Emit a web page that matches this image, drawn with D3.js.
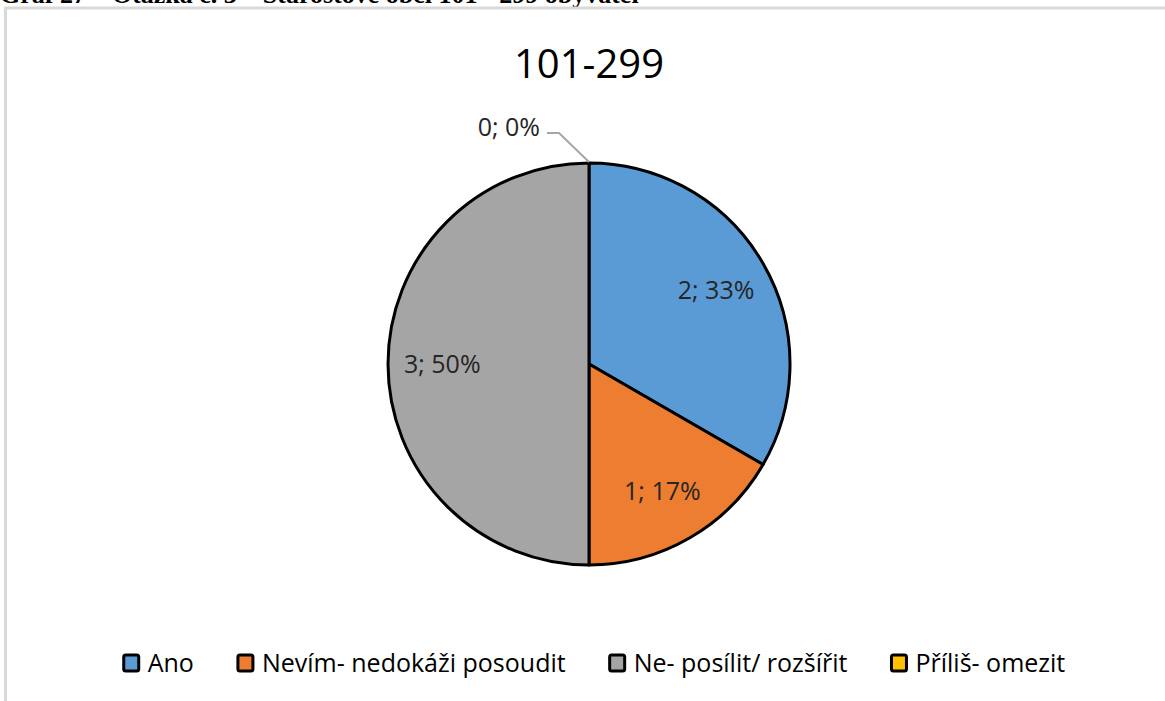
<!DOCTYPE html>
<html><head><meta charset="utf-8">
<script src="https://cdnjs.cloudflare.com/ajax/libs/d3/7.8.5/d3.min.js"></script>
<style>html,body{margin:0;padding:0;background:#fff;overflow:hidden}</style>
</head><body><svg id="c" width="1165" height="701"></svg>
<script>
const categories = ["Ano", "Nevím- nedokáži posoudit", "Ne- posílit/ rozšířit", "Příliš- omezit"];
const values = [2, 1, 3, 0];
const percents = ["33%", "17%", "50%", "0%"];
const colors = ["#5b9bd5", "#ed7d31", "#a5a5a5", "#ffc000"];
const chartTitle = "101-299";
const captionText = "Graf 27 – Otázka č. 3 – Starostové obcí 101 - 299 obyvatel";

const FONT = "'Open Sans', 'Noto Sans', sans-serif";
const svg = d3.select("#c");

// cropped caption above chart
svg.append("text").attr("x", 0).attr("y", 3)
  .attr("font-family", "'Liberation Serif', serif").attr("font-weight", "bold")
  .attr("font-size", 26).attr("fill", "#000").text(captionText);

// chart frame
svg.append("rect").attr("x", 5.5).attr("y", 8).attr("width", 1300).attr("height", 900)
  .attr("fill", "#fff").attr("stroke", "#d9d9d9").attr("stroke-width", 3);

svg.append("text").attr("x", 589).attr("y", 78).attr("text-anchor", "middle")
  .attr("font-family", FONT).attr("font-size", 40).attr("fill", "#000").text(chartTitle);

const cx = 589, cy = 364, r = 201;
const data = categories.map((c, i) => ({c, v: values[i], p: percents[i], col: colors[i]}));
const pie = d3.pie().value(d => d.v).sort(null);
const arcs = pie(data);
const arc = d3.arc().innerRadius(0).outerRadius(r);
const g = svg.append("g").attr("transform", `translate(${cx},${cy})`);
g.selectAll("path").data(arcs.filter(a => a.data.v > 0)).join("path")
  .attr("d", arc).attr("fill", d => d.data.col)
  .attr("stroke", "#000").attr("stroke-width", 3).attr("stroke-linejoin", "round");

// labels
const labelArc = d3.arc().innerRadius(r * 0.73).outerRadius(r * 0.73);
arcs.forEach((a, i) => {
  if (a.data.v > 0) {
    const [x, y] = labelArc.centroid(a);
    g.append("text").attr("x", x).attr("y", y).attr("dy", "0.35em")
      .attr("text-anchor", "middle").attr("font-family", FONT).attr("font-size", 25)
      .attr("fill", "#262626").text(`${a.data.v}; ${a.data.p}`);
  } else {
    // zero slice at top with leader line
    const ang = a.startAngle;
    const px = Math.sin(ang) * r, py = -Math.cos(ang) * r;
    g.append("polyline")
      .attr("points", `${px},${py - 1} ${px - 30},${py - 30} ${px - 42},${py - 30}`)
      .attr("fill", "none").attr("stroke", "#a6a6a6").attr("stroke-width", 2);
    g.append("text").attr("x", px - 49).attr("y", py - 36).attr("dy", "0.35em")
      .attr("text-anchor", "end").attr("font-family", FONT).attr("font-size", 25)
      .attr("fill", "#262626").text(`${a.data.v}; ${a.data.p}`);
  }
});

// legend
const leg = svg.append("g");
const items = leg.selectAll("g").data(data).join("g");
items.append("rect").attr("width", 15).attr("height", 16).attr("rx", 2)
  .attr("fill", d => d.col).attr("stroke", "#000").attr("stroke-width", 3);
items.append("text").attr("x", 24).attr("y", 8).attr("dy", "0.36em")
  .attr("font-family", FONT).attr("font-size", 25).attr("fill", "#000").text(d => d.c);
let xpos = 0;
const gap = 44;
items.each(function() {
  const w = 24 + d3.select(this).select("text").node().getComputedTextLength();
  d3.select(this).attr("transform", `translate(${xpos},0)`);
  xpos += w + gap;
});
const total = xpos - gap;
leg.attr("transform", `translate(${593 - total / 2 + 1.5},${655})`);
</script></body></html>
